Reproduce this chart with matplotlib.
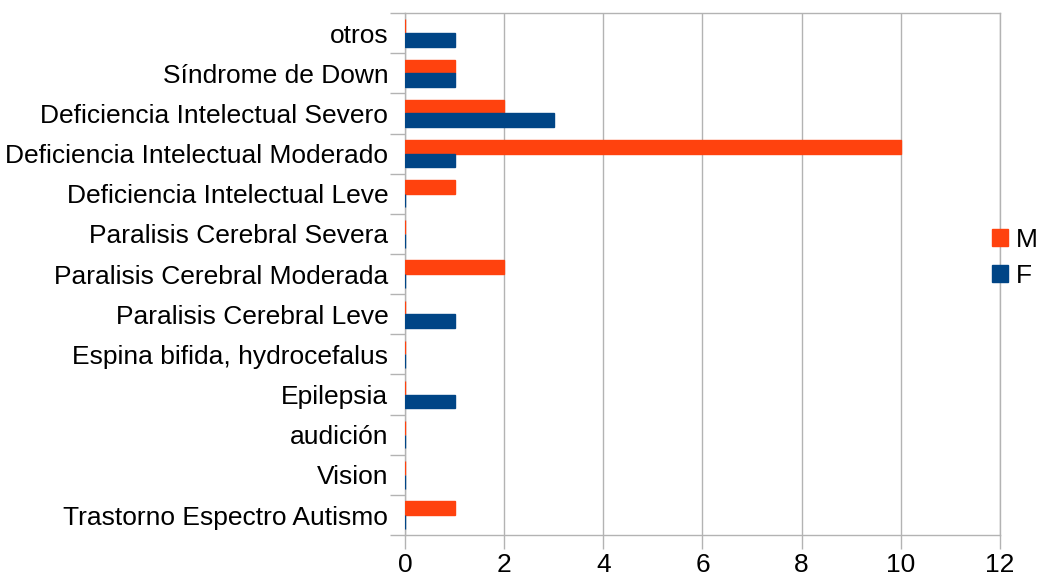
import numpy as np
import matplotlib.pyplot as plt

plt.rcParams['font.family'] = ['Liberation Sans', 'DejaVu Sans']

categorias = ['Trastorno Espectro Autismo', 'Vision', 'audición', 'Epilepsia',
              'Espina bifida, hydrocefalus', 'Paralisis Cerebral Leve',
              'Paralisis Cerebral Moderada', 'Paralisis Cerebral Severa',
              'Deficiencia Intelectual Leve', 'Deficiencia Intelectual Moderado',
              'Deficiencia Intelectual Severo', 'Síndrome de Down', 'otros']
valores_m = [1, 0, 0, 0, 0, 0, 2, 0, 1, 10, 2, 1, 0]
valores_f = [0, 0, 0, 1, 0, 1, 0, 0, 0, 1, 3, 1, 1]

col_m = '#ff420e'
col_f = '#004586'
gris = '#b3b3b3'
fs = 19

fig = plt.figure(figsize=(10.41, 5.81), dpi=100)
ax = fig.add_axes([0.389, 0.079, 0.5716, 0.8985])

y = np.arange(len(categorias))
h = 0.34
ax.barh(y + h / 2, valores_m, height=h, color=col_m, edgecolor=col_m, linewidth=1, label='M', zorder=3)
ax.barh(y - h / 2, valores_f, height=h, color=col_f, edgecolor=col_f, linewidth=1, label='F', zorder=3)

ax.set_xlim(0, 12)
ax.set_ylim(-0.5, len(categorias) - 0.5)
ax.set_xticks(np.arange(0, 13, 2))
ax.set_yticks(y)
ax.set_yticklabels(categorias)
ax.set_yticks(np.arange(-0.5, len(categorias), 1), minor=True)

ax.xaxis.grid(True, color=gris, linewidth=1)
ax.set_axisbelow(True)
for s in ax.spines.values():
    s.set_color(gris)
    s.set_linewidth(1)
    s.set_zorder(1)

ax.tick_params(axis='x', colors=gris, labelcolor='black', labelsize=fs, length=10, width=1, pad=3)
ax.tick_params(axis='y', which='major', length=0, labelsize=fs, pad=12)
ax.tick_params(axis='y', which='minor', colors=gris, length=11, width=1)

ax.legend(loc='center left', bbox_to_anchor=(0.953, 0.556), bbox_transform=fig.transFigure,
          frameon=False, fontsize=fs, handlelength=0.6, handleheight=0.6,
          handletextpad=0.3, labelspacing=0.45, borderaxespad=0, borderpad=0)

fig.savefig('out.png', dpi=100)
